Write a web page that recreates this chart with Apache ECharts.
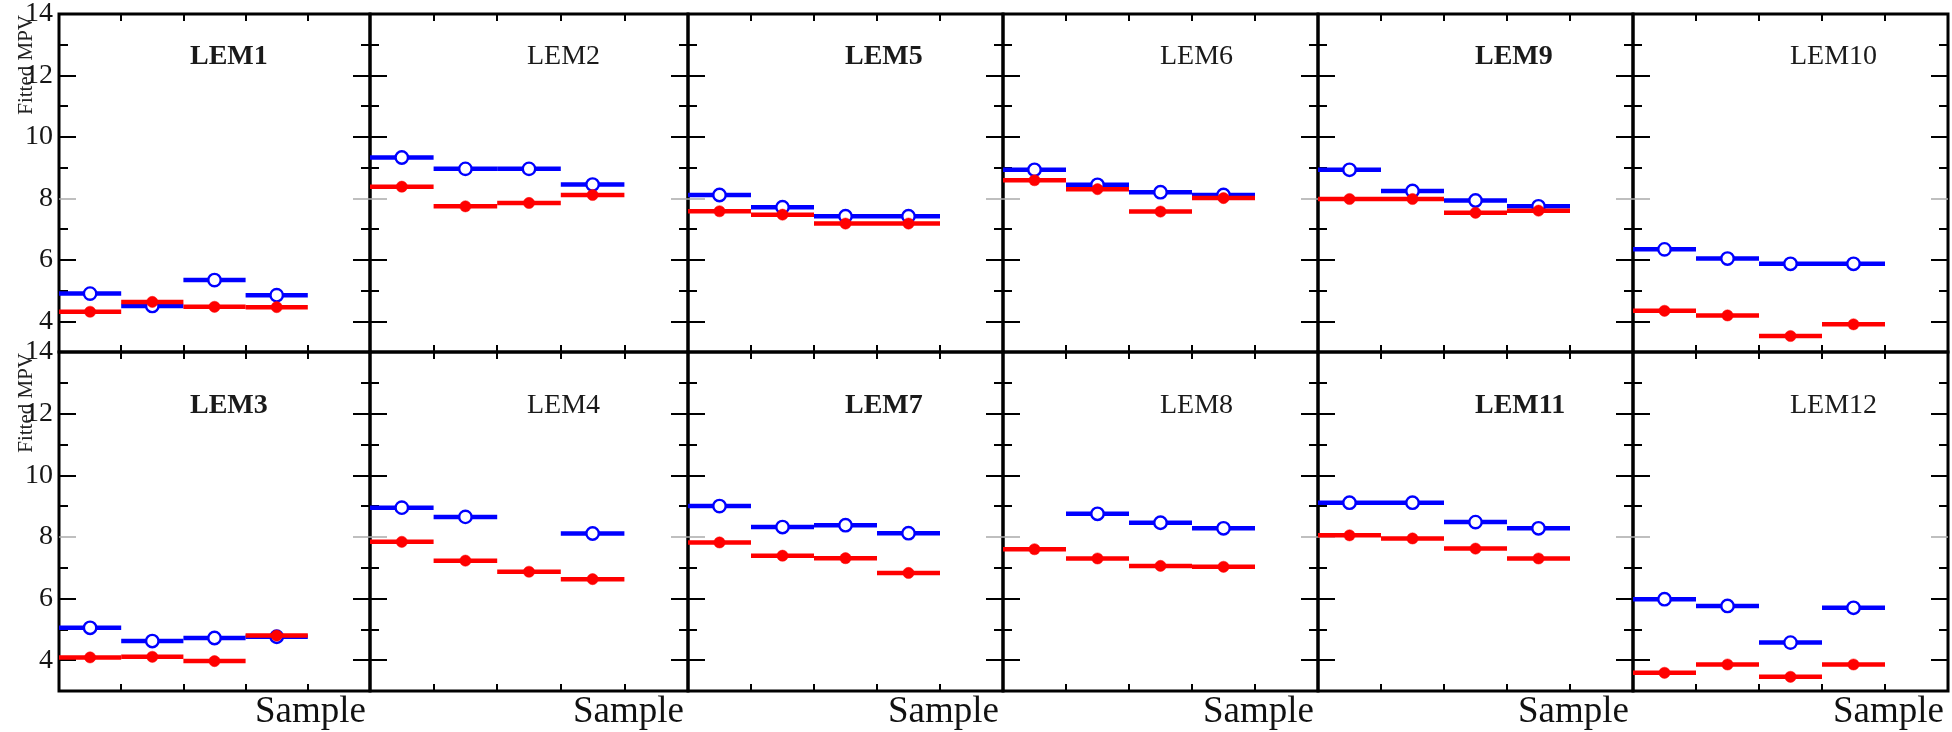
<!DOCTYPE html>
<html>
<head>
<meta charset="utf-8">
<script src="https://cdn.jsdelivr.net/npm/echarts@6/dist/echarts.min.js"></script>
<style>html,body{margin:0;padding:0;background:#fff}#c{width:1952px;height:732px}</style>
</head>
<body>
<div id="c"></div>
<script>
// ---- data ----
const panelNames = ['LEM1','LEM2','LEM5','LEM6','LEM9','LEM10','LEM3','LEM4','LEM7','LEM8','LEM11','LEM12'];
const samples = [0, 1, 2, 3]; // bin lower edges (bins are 1 wide)
const blueValues = [
  [4.90, 4.50, 5.34, 4.85],   // LEM1
  [9.33, 8.96, 8.96, 8.45],   // LEM2
  [8.11, 7.71, 7.42, 7.42],   // LEM5
  [8.93, 8.44, 8.20, 8.11],   // LEM6
  [8.93, 8.24, 7.93, 7.74],   // LEM9
  [6.34, 6.04, 5.87, 5.87],   // LEM10
  [5.05, 4.62, 4.72, 4.76],   // LEM3
  [8.95, 8.65, null, 8.11],   // LEM4
  [9.00, 8.32, 8.38, 8.12],   // LEM7
  [null, 8.75, 8.46, 8.28],   // LEM8
  [9.11, 9.11, 8.48, 8.28],   // LEM11
  [5.98, 5.76, 4.57, 5.70]    // LEM12
];
const redValues = [
  [4.31, 4.63, 4.47, 4.46],   // LEM1
  [8.38, 7.74, 7.85, 8.11],   // LEM2
  [7.58, 7.47, 7.18, 7.18],   // LEM5
  [8.59, 8.30, 7.57, 8.01],   // LEM6
  [7.98, 7.98, 7.53, 7.60],   // LEM9
  [4.34, 4.19, 3.52, 3.90],   // LEM10
  [4.09, 4.11, 3.97, 4.80],   // LEM3
  [7.84, 7.23, 6.87, 6.63],   // LEM4
  [7.82, 7.39, 7.31, 6.83],   // LEM7
  [7.60, 7.30, 7.06, 7.03],   // LEM8
  [8.05, 7.95, 7.62, 7.30],   // LEM11
  [3.59, 3.86, 3.46, 3.86]    // LEM12
];
const yMajorTicks = [4, 6, 8, 10, 12, 14];
const yMinorTicks = [5, 7, 9, 11, 13];
const yGrayTicks = [8];
const yTickLabels = [4, 6, 8, 10, 12, 14];
const yTitle = 'Fitted MPV';
const xTitle = 'Sample';

// ---- layout ----
const colLeft = [59, 370, 688, 1003, 1318, 1633];
const colWidth = [311, 318, 315, 315, 315, 315];
const rowTop = [14, 352];
const rowHeight = [338, 339];
const serif = "'Liberation Serif', 'Times New Roman', serif";

const grids = [], xAxes = [], yAxes = [], series = [], graphics = [];

function makeRender(color, hollow) {
  return function (params, api) {
    const i = api.value(0), v = api.value(1);
    const p0 = api.coord([i, v]);
    const p1 = api.coord([i + 1, v]);
    const pc = api.coord([i + 0.5, v]);
    return {
      type: 'group',
      children: [
        { type: 'line', shape: { x1: p0[0], y1: p0[1], x2: p1[0], y2: p1[1] },
          style: { stroke: color, lineWidth: 4.5 } },
        hollow
          ? { type: 'circle', shape: { cx: pc[0], cy: pc[1], r: 6.2 },
              style: { fill: '#fff', stroke: color, lineWidth: 2.4 } }
          : { type: 'circle', shape: { cx: pc[0], cy: pc[1], r: 5.6 },
              style: { fill: color, stroke: color, lineWidth: 0.5 } }
      ]
    };
  };
}

function yAxisDef(g, pos, ticks, len, color, width, showLabel) {
  return {
    type: 'value', gridIndex: g, position: pos, min: 3, max: 14,
    axisLine: { show: false },
    splitLine: { show: false },
    axisTick: { show: true, inside: true, length: len, customValues: ticks,
                lineStyle: { color: color, width: width } },
    axisLabel: showLabel
      ? { show: true, customValues: yTickLabels, inside: false, margin: 6,
          fontFamily: serif, fontSize: 28, color: '#151515' }
      : { show: false }
  };
}

panelNames.forEach((name, k) => {
  const row = Math.floor(k / 6), col = k % 6;
  grids.push({
    left: colLeft[col], top: rowTop[row], width: colWidth[col], height: rowHeight[row],
    show: true, borderColor: '#000', borderWidth: 3, backgroundColor: 'transparent'
  });
  const xb = xAxes.length;
  ['bottom', 'top'].forEach(pos => {
    xAxes.push({
      type: 'value', gridIndex: k, position: pos, min: 0, max: 5, interval: 1,
      axisLine: { show: false }, splitLine: { show: false },
      axisTick: { show: true, inside: true, length: 7, lineStyle: { color: '#000', width: 2 } },
      axisLabel: { show: false }
    });
  });
  const yb = yAxes.length;
  ['left', 'right'].forEach(pos => {
    yAxes.push(yAxisDef(k, pos, yMajorTicks.filter(t => yGrayTicks.indexOf(t) < 0), 17, '#000', 2,
                        pos === 'left' && col === 0));
    yAxes.push(yAxisDef(k, pos, yMinorTicks, 9, '#000', 2, false));
    yAxes.push(yAxisDef(k, pos, yGrayTicks, 17, '#aaa', 1.5, false));
  });
  [[blueValues[k], '#0000ff', true], [redValues[k], '#ff0000', false]].forEach(([vals, color, hollow]) => {
    const data = [];
    samples.forEach((s, i) => { if (vals[i] !== null) data.push([s, vals[i]]); });
    series.push({
      type: 'custom', xAxisIndex: xb, yAxisIndex: yb, data: data,
      renderItem: makeRender(color, hollow), silent: true, clip: false, animation: false
    });
  });
  // panel label
  graphics.push({
    type: 'text',
    x: col === 0 ? 190 : colLeft[col] + 157, y: row === 0 ? 56.5 : 405.5,
    style: { text: name, fontFamily: serif, fontSize: 28, fontWeight: (col % 2 === 0) ? 'bold' : 'normal',
             fill: '#1a1a1a', textAlign: 'left', textVerticalAlign: 'middle' }
  });
  if (row === 1) {
    graphics.push({
      type: 'text', x: colLeft[col] + colWidth[col] - 4, y: 712,
      style: { text: xTitle, fontFamily: serif, fontSize: 37, fill: '#111',
               textAlign: 'right', textVerticalAlign: 'middle' }
    });
  }
});

[15, 353].forEach(y0 => {
  graphics.push({
    type: 'text', x: 26, y: y0, rotation: Math.PI / 2,
    style: { text: yTitle, fontFamily: serif, fontSize: 21, fill: '#222',
             textAlign: 'right', textVerticalAlign: 'middle' }
  });
});

const chart = echarts.init(document.getElementById('c'), null, { renderer: 'canvas' });
chart.setOption({
  animation: false,
  backgroundColor: '#fff',
  grid: grids,
  xAxis: xAxes,
  yAxis: yAxes,
  series: series,
  graphic: { elements: graphics }
});
</script>
</body>
</html>
